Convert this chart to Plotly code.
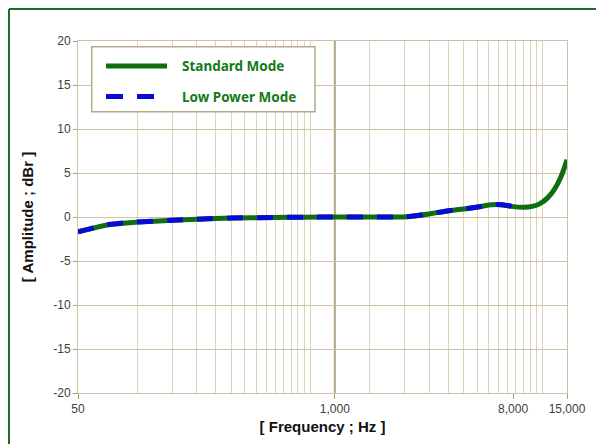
import math
import plotly.graph_objects as go

# ---- data ----
freq_std = [50, 70, 100, 150, 200, 300, 500, 700, 1000, 1500, 2000, 2300,
            3000, 3400, 4000, 4800, 5500, 6200, 7000, 8000, 9000, 10000,
            11000, 12000, 13000, 14000, 15000]
amp_std = [-1.7, -0.9, -0.57, -0.38, -0.25, -0.12, -0.05, -0.03, 0.0, 0.0,
           0.0, 0.02, 0.35, 0.55, 0.78, 1.0, 1.2, 1.4, 1.4, 1.18, 1.1, 1.2,
           1.55, 2.2, 3.2, 4.6, 6.5]

freq_low = [50, 70, 100, 150, 200, 300, 500, 700, 1000, 1500, 2000, 2300,
            3000, 3400, 4000, 4800, 5500, 6200, 7000, 8000]
amp_low = [-1.7, -0.9, -0.57, -0.38, -0.25, -0.12, -0.05, -0.03, 0.0, 0.0,
           0.0, 0.02, 0.35, 0.55, 0.78, 1.0, 1.2, 1.4, 1.4, 1.18]

x_tickvals = [50, 1000, 8000, 15000]
x_ticktext = ["50", "1,000", "8,000", "15,000"]
grid_low = [50 * k for k in range(1, 16)]        # 50 ... 750
grid_high = [750 * k for k in range(2, 16)]      # 1500 ... 11250
y_ticks = [-20, -15, -10, -5, 0, 5, 10, 15, 20]
y_ticktext = ["-20", "-15", "-10", "-5", "0", "5", "10", "15", "20"]

series_names = ["Standard Mode", "Low Power Mode"]

GREEN = "#0f6f0f"
BLUE = "#0a0ad6"
GRID_V = "#dcd5bd"
GRID_H = "#cdc3a2"
GRID_DARK = "#b3a883"
TXT = "#404040"
FONT = "Liberation Sans, Arial"
FRAME = "#1e6e1e"

fig = go.Figure()
fig.add_trace(go.Scatter(x=freq_std, y=amp_std, mode="lines", name=series_names[0],
                         line=dict(color=GREEN, width=5, shape="spline", smoothing=0.8),
                         showlegend=False))
fig.add_trace(go.Scatter(x=freq_low, y=amp_low, mode="lines", name=series_names[1],
                         line=dict(color=BLUE, width=5, shape="spline", smoothing=0.8,
                                   dash="16px,14px"),
                         showlegend=False))

fig.update_xaxes(type="log", range=[math.log10(x_tickvals[0]), math.log10(x_tickvals[-1])],
                 tickvals=x_tickvals, ticktext=x_ticktext, showgrid=False,
                 minor=dict(tickvals=grid_low + grid_high, showgrid=True,
                            gridcolor=GRID_V, gridwidth=1, ticks=""),
                 ticks="outside", ticklen=5, tickcolor="#a89d78",
                 showline=True, linecolor=GRID_H, linewidth=1, mirror=True,
                 tickfont=dict(family=FONT, size=12, color=TXT),
                 title=dict(text="<b>[ Frequency ; Hz ]</b>", standoff=6,
                            font=dict(family=FONT, size=15, color="#111")),
                 zeroline=False)
fig.update_yaxes(range=[-20, 20], tickvals=y_ticks, ticktext=y_ticktext,
                 showgrid=True, gridcolor=GRID_H,
                 gridwidth=1, ticks="outside", ticklen=4, tickcolor="#a89d78",
                 showline=True, linecolor=GRID_H, linewidth=1, mirror=True,
                 zeroline=False,
                 tickfont=dict(family=FONT, size=12, color=TXT),
                 title=dict(text="<b>[ Amplitude ; dBr ]</b>", standoff=16,
                            font=dict(family=FONT, size=15, color="#111")))

shapes = [
    # darker 1,000 Hz line
    dict(type="line", xref="x", yref="paper", x0=1000, x1=1000, y0=0, y1=1,
         line=dict(color=GRID_DARK, width=2), layer="below"),
    # outer green frame (left and top edges visible)
    dict(type="line", xref="paper", yref="paper", x0=-0.1411, x1=-0.1411, y0=-0.4, y1=1.0909,
         line=dict(color=FRAME, width=2)),
    dict(type="line", xref="paper", yref="paper", x0=-0.1411, x1=1.06, y0=1.0909, y1=1.0909,
         line=dict(color=FRAME, width=2)),
    # legend box
    dict(type="rect", xref="paper", yref="paper", x0=0.028, x1=0.4847, y0=0.799, y1=0.984,
         line=dict(color="#b5aa85", width=1.5), fillcolor="white"),
    dict(type="line", xref="paper", yref="paper", x0=0.0573, x1=0.182, y0=0.929, y1=0.929,
         line=dict(color=GREEN, width=5)),
    dict(type="line", xref="paper", yref="paper", x0=0.0573, x1=0.182, y0=0.842, y1=0.842,
         line=dict(color=BLUE, width=5, dash="17px,14px")),
]
annotations = [
    dict(xref="paper", yref="paper", x=0.208, y=0.929, xanchor="left", yanchor="middle",
         text="<b>" + series_names[0] + "</b>", showarrow=False,
         font=dict(family="Noto Sans", size=13.5, color="#157a15")),
    dict(xref="paper", yref="paper", x=0.208, y=0.842, xanchor="left", yanchor="middle",
         text="<b>" + series_names[1] + "</b>", showarrow=False,
         font=dict(family="Noto Sans", size=13.5, color="#157a15")),
]

fig.update_layout(width=604, height=444, margin=dict(l=70, r=45, t=33, b=59),
                  paper_bgcolor="white", plot_bgcolor="white",
                  shapes=shapes, annotations=annotations, showlegend=False)

fig.write_html("out.html")
